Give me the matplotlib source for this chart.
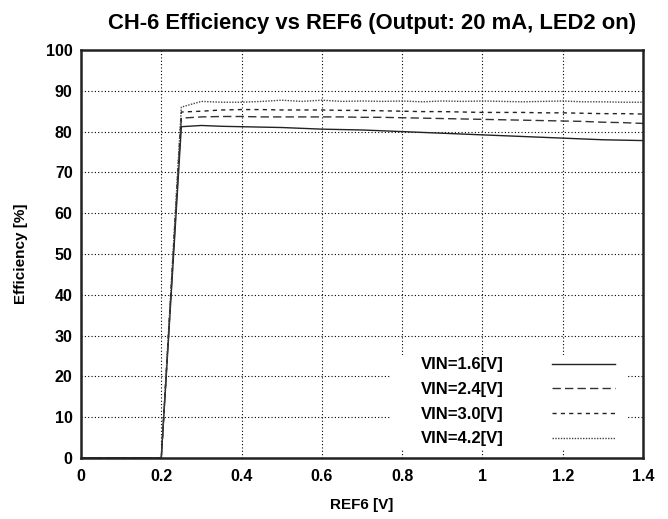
import matplotlib
matplotlib.use("Agg")
import matplotlib.pyplot as plt
from matplotlib.patches import Rectangle

plt.rcParams['font.family'] = ['Liberation Sans', 'DejaVu Sans']
plt.rcParams['font.weight'] = 'bold'

x = [0.0, 0.2, 0.25, 0.3, 0.35, 0.4, 0.45, 0.5, 0.55, 0.6, 0.65, 0.7, 0.75, 0.8, 0.85,
     0.9, 0.95, 1.0, 1.05, 1.1, 1.15, 1.2, 1.25, 1.3, 1.35, 1.4]
vin16 = [0, 0, 81.2, 81.5, 81.3, 81.2, 81.1, 81.0, 80.8, 80.6, 80.5, 80.4, 80.2, 80.0, 79.8,
         79.6, 79.4, 79.2, 79.0, 78.8, 78.6, 78.4, 78.2, 78.0, 77.9, 77.8]
vin24 = [0, 0, 83.3, 83.6, 83.7, 83.7, 83.6, 83.6, 83.6, 83.6, 83.6, 83.5, 83.5, 83.4, 83.3,
         83.2, 83.1, 83.0, 82.9, 82.8, 82.7, 82.6, 82.5, 82.3, 82.2, 82.0]
vin30 = [0, 0, 84.8, 85.0, 85.3, 85.4, 85.4, 85.3, 85.3, 85.3, 85.2, 85.2, 85.1, 85.0, 84.9,
         84.9, 84.8, 84.7, 84.7, 84.7, 84.6, 84.6, 84.5, 84.4, 84.4, 84.3]
vin42 = [0, 0, 86.0, 87.4, 87.2, 87.2, 87.4, 87.7, 87.4, 87.7, 87.4, 87.5, 87.4, 87.5, 87.3,
         87.5, 87.4, 87.5, 87.4, 87.3, 87.4, 87.5, 87.3, 87.3, 87.2, 87.2]

labels = ['VIN=1.6[V]', 'VIN=2.4[V]', 'VIN=3.0[V]', 'VIN=4.2[V]']
xticks = [0, 0.2, 0.4, 0.6, 0.8, 1, 1.2, 1.4]
xticklabels = ['0', '0.2', '0.4', '0.6', '0.8', '1', '1.2', '1.4']
yticks = list(range(0, 101, 10))

fig = plt.figure(figsize=(6.68, 5.19), dpi=100)
ax = fig.add_axes([81/668, 1-458/519, (643-81)/668, (458-50)/519])
ax.set_axisbelow(True)

styles = [
    dict(linestyle='-', color='#222222', linewidth=1.0),
    dict(linestyle=(0, (6, 3)), color='#333333', linewidth=1.0),
    dict(linestyle=(0, (3, 3)), color='#222222', linewidth=1.0),
    dict(linestyle=(0, (1, 1)), color='#444444', linewidth=1.0),
]
for ys, lab, st in zip([vin16, vin24, vin30, vin42], labels, styles):
    ax.plot(x, ys, label=lab, zorder=3, **st)

ax.set_xlim(0, 1.4)
ax.set_ylim(0, 100)
ax.set_xticks(xticks)
ax.set_xticklabels(xticklabels)
ax.set_yticks(yticks)
ax.grid(True, color='black', linestyle=(0, (1, 2)), linewidth=0.8)
ax.tick_params(axis='x', direction='in', length=0, labelsize=11.5, pad=8)
ax.tick_params(axis='y', direction='in', length=0, labelsize=11.5, pad=6)
for lbl in ax.get_xticklabels() + ax.get_yticklabels():
    lbl.set_fontweight('bold')
for s in ax.spines.values():
    s.set_linewidth(1.8)
    s.set_color('#222222')
    s.set_zorder(5)

ax.set_xlabel('REF6 [V]', fontsize=11, fontweight='bold', labelpad=10)
ax.set_ylabel('Efficiency [%]', fontsize=11, fontweight='bold', labelpad=13)
ax.set_title('CH-6 Efficiency vs REF6 (Output: 20 mA, LED2 on)', fontsize=15.8,
             fontweight='bold', pad=15, x=0.518)

# white backing area behind the legend
ax.add_patch(Rectangle((0.55, 0.02), 0.423, 0.232, transform=ax.transAxes,
                       facecolor='white', edgecolor='none', zorder=2))

leg = ax.legend(loc='lower right', bbox_to_anchor=(0.962, 0.012), markerfirst=False,
                handlelength=3.8, handletextpad=2.9, fontsize=12, frameon=False,
                borderaxespad=0.0, labelspacing=0.58, borderpad=0.4)
for t in leg.get_texts():
    t.set_fontweight('bold')

fig.savefig('out.png', dpi=100)
